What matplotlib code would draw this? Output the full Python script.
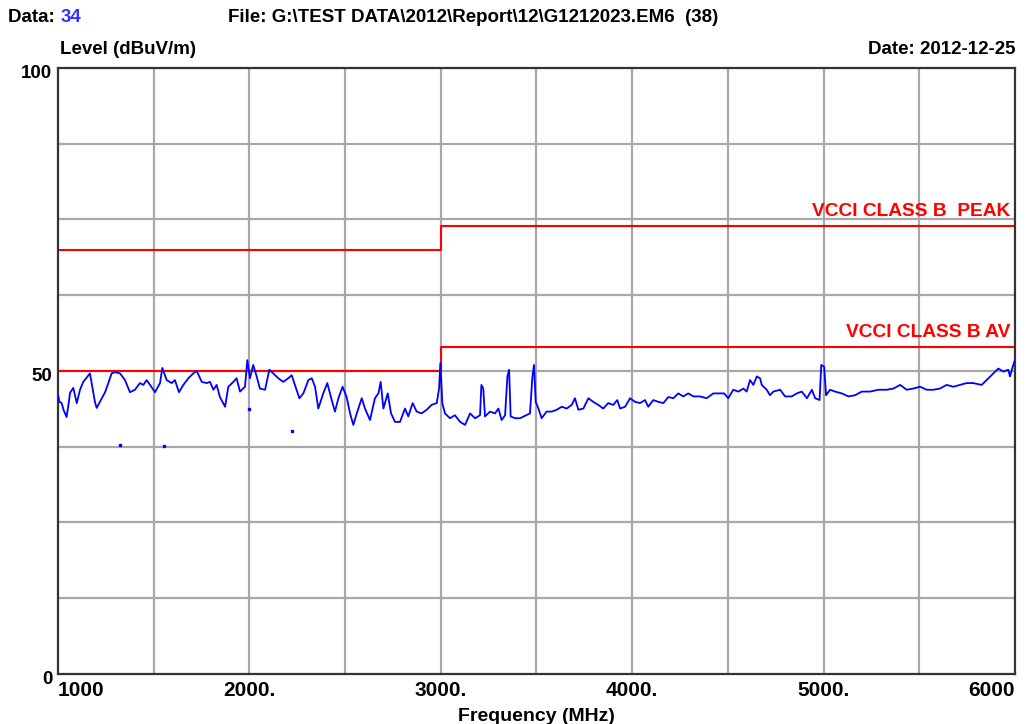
import matplotlib
matplotlib.use("Agg")
import matplotlib.pyplot as plt
import matplotlib.transforms as mtransforms

plt.rcParams["font.family"] = ["Liberation Sans", "DejaVu Sans"]
plt.rcParams["font.weight"] = "bold"

freq = [1000, 1008, 1019, 1030, 1045, 1055, 1063, 1080, 1098, 1115, 1132, 1159, 1167, 1176,
        1193, 1202, 1219, 1246, 1263, 1280, 1298, 1324, 1350, 1376, 1402, 1428, 1446, 1463,
        1481, 1507, 1533, 1545, 1568, 1594, 1611, 1632, 1655, 1681, 1707, 1725, 1751, 1777,
        1794, 1812, 1829, 1846, 1873, 1890, 1916, 1933, 1951, 1977, 1989, 2003, 2020, 2038,
        2055, 2082, 2104, 2125, 2151, 2177, 2203, 2221, 2238, 2261, 2282, 2308, 2326, 2343,
        2360, 2386, 2407, 2430, 2447, 2465, 2487, 2508, 2526, 2543, 2561, 2587, 2604, 2630,
        2656, 2674, 2686, 2700, 2723, 2740, 2761, 2787, 2813, 2830, 2853, 2874, 2900, 2926,
        2952, 2979, 2991, 2998, 3008, 3022, 3048, 3074, 3101, 3127, 3153, 3179, 3205, 3212,
        3222, 3231, 3257, 3283, 3301, 3318, 3336, 3348, 3357, 3365, 3388, 3414, 3440, 3466,
        3478, 3487, 3496, 3510, 3527, 3553, 3580, 3606, 3632, 3658, 3684, 3701, 3719, 3745,
        3771, 3797, 3823, 3849, 3875, 3901, 3922, 3937, 3963, 3989, 4015, 4041, 4067, 4084,
        4110, 4137, 4163, 4189, 4215, 4241, 4267, 4293, 4320, 4354, 4389, 4424, 4459, 4480,
        4502, 4528, 4555, 4581, 4598, 4616, 4633, 4651, 4668, 4677, 4703, 4720, 4738, 4773,
        4799, 4834, 4860, 4886, 4913, 4939, 4956, 4979, 4988, 5003, 5013, 5034, 5060, 5095,
        5130, 5165, 5200, 5243, 5286, 5330, 5365, 5400, 5434, 5469, 5504, 5539, 5573, 5608,
        5643, 5678, 5713, 5747, 5782, 5826, 5852, 5887, 5913, 5939, 5965, 5974, 5988, 6000]
level = [46.0, 44.9, 44.7, 43.5, 42.4, 44.5, 46.4, 47.2, 44.7, 46.9, 48.2, 49.3, 49.6, 48.0,
         44.9, 43.9, 44.9, 46.5, 48.0, 49.6, 49.8, 49.6, 48.5, 46.5, 46.9, 48.0, 47.7, 48.5,
         47.7, 46.5, 48.0, 50.5, 48.5, 48.0, 48.5, 46.5, 47.7, 48.8, 49.6, 50.0, 48.2, 48.0,
         48.2, 46.9, 47.7, 45.7, 44.1, 47.4, 48.2, 48.8, 46.6, 47.4, 51.8, 48.8, 51.0, 49.1,
         47.1, 46.9, 50.2, 49.6, 48.8, 48.2, 48.8, 49.3, 47.7, 45.5, 46.3, 48.5, 48.8, 47.4,
         43.8, 46.3, 48.0, 45.2, 43.3, 45.5, 47.4, 45.7, 43.0, 41.1, 43.0, 45.5, 43.8, 41.9,
         45.5, 46.3, 48.2, 43.8, 46.3, 43.0, 41.6, 41.6, 43.8, 42.5, 44.7, 43.3, 43.0, 43.6,
         44.4, 44.7, 47.1, 51.3, 44.7, 43.0, 42.2, 42.7, 41.6, 41.1, 43.0, 42.2, 42.7, 47.7,
         47.1, 42.5, 43.3, 43.0, 43.8, 41.9, 42.7, 49.1, 50.2, 42.5, 42.2, 42.2, 42.6, 43.0,
         48.8, 51.0, 44.9, 43.8, 42.2, 43.3, 43.3, 43.6, 44.1, 43.8, 44.4, 45.5, 43.6, 43.8,
         45.5, 44.9, 44.4, 43.8, 44.7, 44.4, 45.2, 43.8, 44.1, 45.5, 44.9, 44.7, 45.2, 44.1,
         45.2, 44.9, 44.7, 45.7, 45.5, 46.3, 45.8, 46.3, 45.8, 45.8, 45.5, 46.3, 46.3, 46.3,
         45.5, 46.9, 46.6, 47.1, 46.6, 48.5, 47.7, 49.1, 48.8, 47.7, 46.9, 46.0, 46.6, 46.9,
         45.8, 45.8, 46.3, 46.6, 45.5, 46.9, 45.5, 45.2, 51.0, 50.7, 46.0, 46.9, 46.6, 46.3,
         45.8, 46.0, 46.6, 46.6, 46.9, 46.9, 47.1, 47.7, 46.9, 47.1, 47.4, 46.9, 46.9, 47.1,
         47.7, 47.4, 47.7, 48.0, 48.0, 47.7, 48.5, 49.6, 50.4, 49.9, 50.2, 49.1, 50.7, 51.8]

# isolated samples below the trace
dot_freq = [1324, 1554, 1998, 2223]
dot_level = [37.8, 37.6, 43.7, 40.1]

# limit lines
limit_freq = [1000, 3000, 3000, 6000]
peak_limit = [70, 70, 74, 74]
av_limit = [50, 50, 54, 54]

x_ticks = [1000, 2000, 3000, 4000, 5000, 6000]
x_tick_labels = ["1000", "2000.", "3000.", "4000.", "5000.", "6000"]
y_ticks = [0, 50, 100]
y_tick_labels = ["0", "50", "100"]

fig = plt.figure(figsize=(10.32, 7.24), dpi=100)
ax = fig.add_axes([0.0562, 0.0691, 0.9273, 0.837])

ax.set_xlim(1000, 6000)
ax.set_ylim(0, 100)

# grid every 500 MHz and 12.5 dB
for gx in range(1500, 6000, 500):
    ax.axvline(gx, color="#a8a8a8", lw=1.6, zorder=1)
for gy in [12.5, 25, 37.5, 50, 62.5, 75, 87.5]:
    ax.axhline(gy, color="#a8a8a8", lw=1.6, zorder=1)

ax.plot(limit_freq, peak_limit, color="#ff0000", lw=1.5, zorder=2)
ax.plot(limit_freq, av_limit, color="#ff0000", lw=1.5, zorder=2)
ax.plot(freq, level, color="#0000ff", lw=1.3, zorder=3)
ax.plot(dot_freq, dot_level, ls="none", marker="s", ms=1.5, color="#0000ff", zorder=3)

ax.text(5975, 74.9, "VCCI CLASS B  PEAK", color="#ff0000", fontsize=13.8,
        fontweight="bold", ha="right", va="bottom")
ax.text(5975, 54.9, "VCCI CLASS B AV", color="#ff0000", fontsize=13.8,
        fontweight="bold", ha="right", va="bottom")

for s in ax.spines.values():
    s.set_color("#333333")
    s.set_linewidth(1.6)

ax.set_xticks(x_ticks)
ax.set_xticklabels(x_tick_labels, fontsize=15, fontweight="bold")
ax.set_yticks(y_ticks)
ax.set_yticklabels(y_tick_labels, fontsize=13.5, fontweight="bold")
ax.tick_params(axis="x", length=0, pad=5)
ax.tick_params(axis="y", length=0, pad=4)
ax.get_xticklabels()[0].set_ha("left")
ax.get_xticklabels()[-1].set_ha("right")
# y labels sit a little below their grid lines in the original
shift = mtransforms.ScaledTranslation(0, -4 / 100, fig.dpi_scale_trans)
for lab in ax.get_yticklabels():
    lab.set_transform(lab.get_transform() + shift)
ax.set_xlabel("Frequency (MHz)", fontsize=14, fontweight="bold", labelpad=6)

t = fig.text(0.008, 0.976, "Data: ", fontsize=13.5, fontweight="bold", va="center")
ax.annotate("34", xy=(1, 0.5), xycoords=t, va="center", fontsize=13.5,
            fontweight="bold", color="#3333ff")
fig.text(0.221, 0.976, "File: G:\\TEST DATA\\2012\\Report\\12\\G1212023.EM6  (38)",
         fontsize=13.5, fontweight="bold", va="center")
fig.text(0.058, 0.931, "Level (dBuV/m)", fontsize=13.5, fontweight="bold", va="center")
fig.text(0.984, 0.931, "Date: 2012-12-25", fontsize=13.5, fontweight="bold",
         va="center", ha="right")

fig.savefig("out.png", dpi=100)
